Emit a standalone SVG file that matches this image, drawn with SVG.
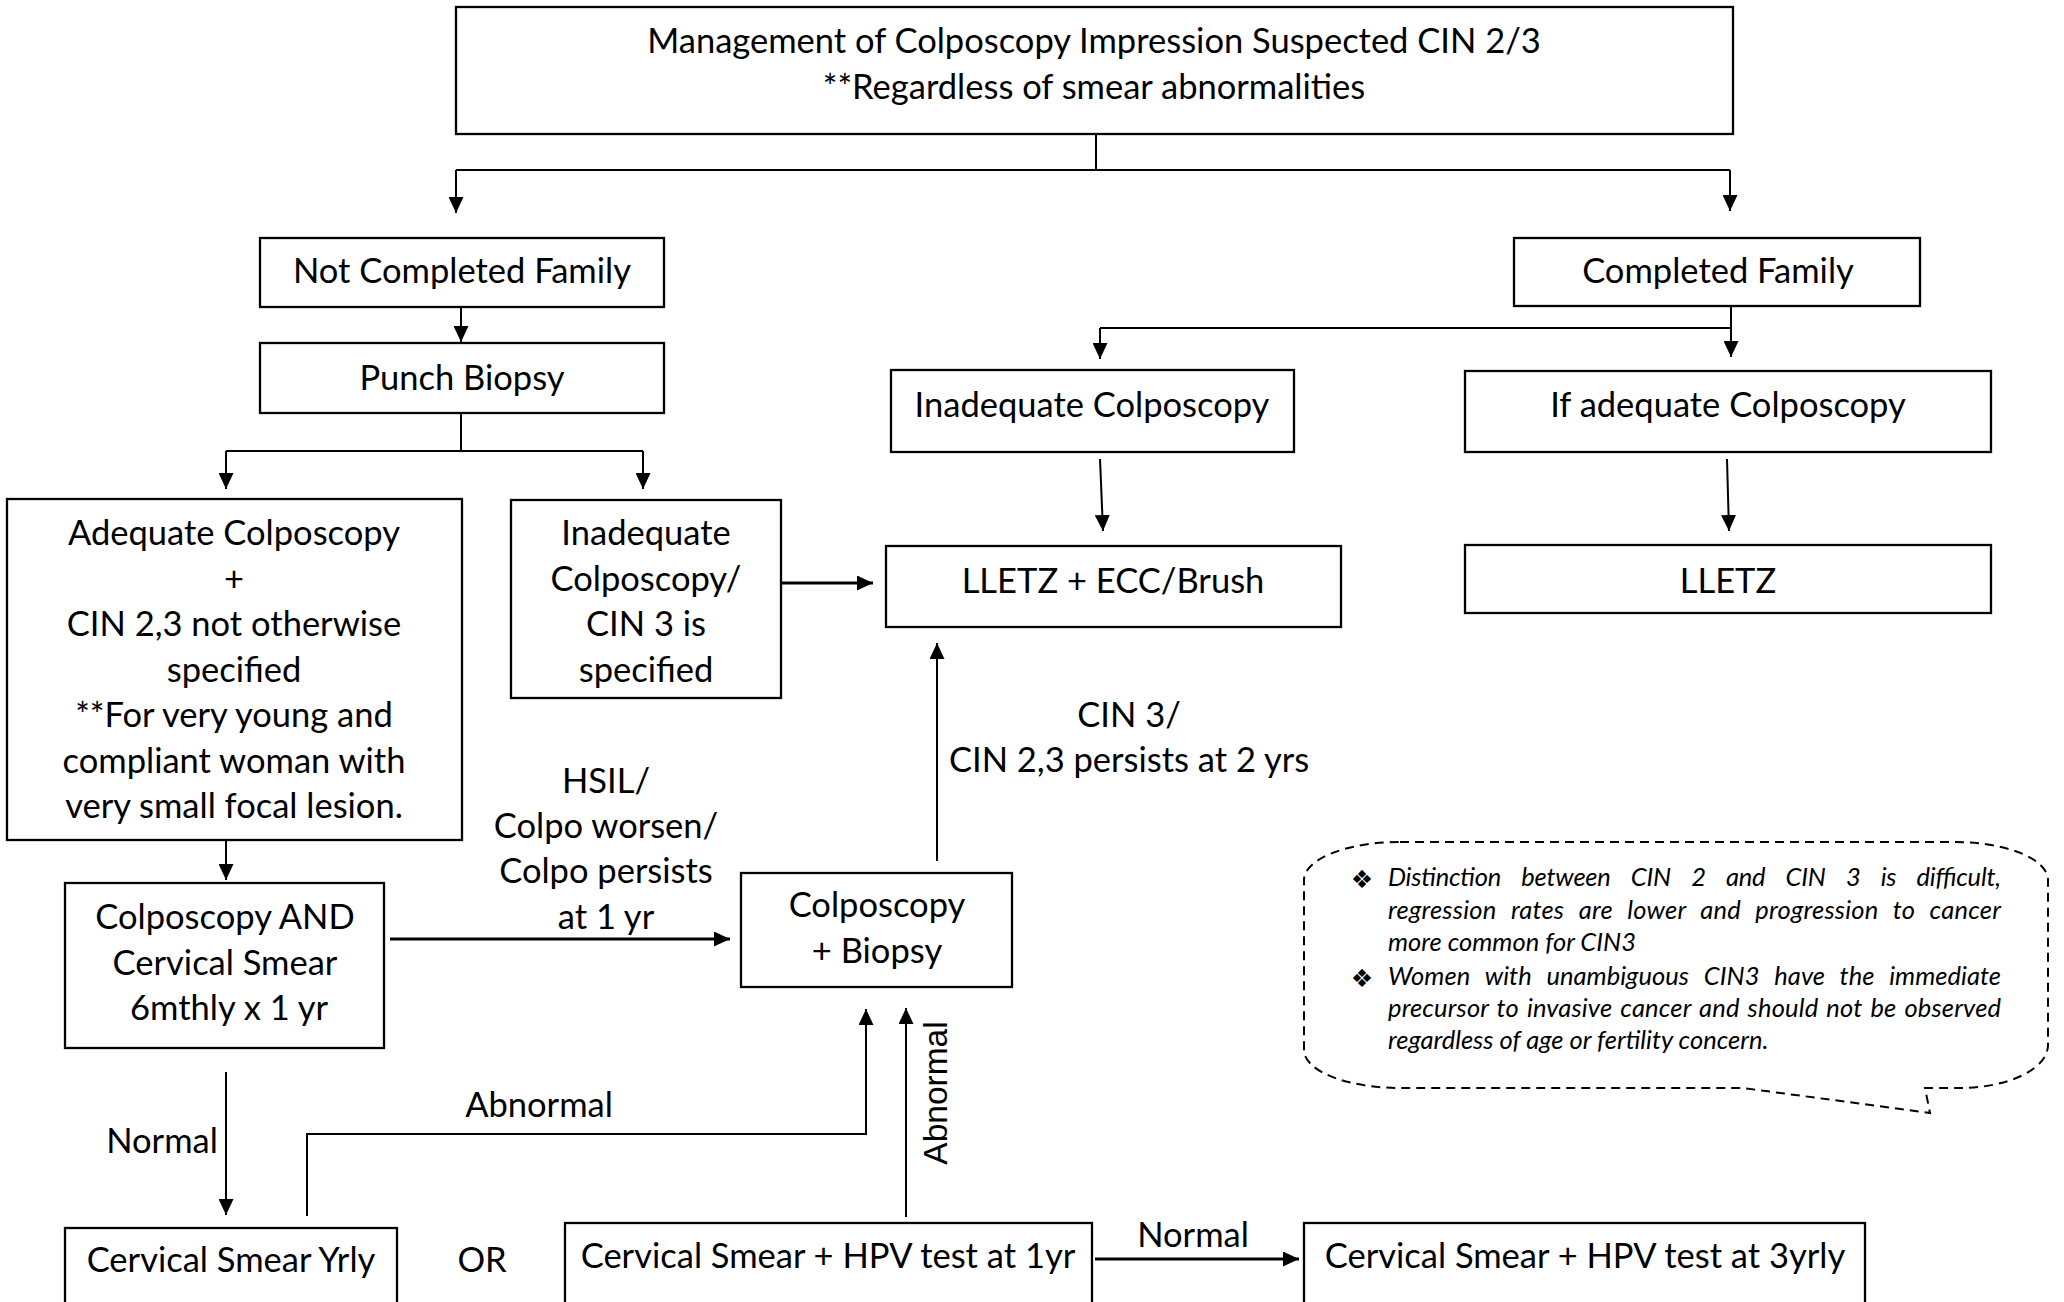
<svg xmlns="http://www.w3.org/2000/svg" width="2064" height="1302" viewBox="0 0 2064 1302">
  <style>
    .box { fill: #ffffff; stroke: #000000; stroke-width: 2.3; }
    .t { font-family: Lato, "Liberation Sans", sans-serif; font-size: 34.5px; fill: #000000; text-anchor: middle; }
    .l { font-family: Lato, "Liberation Sans", sans-serif; font-size: 34.5px; fill: #000000; text-anchor: middle; }
    .rot { font-family: "Liberation Sans", Arial, sans-serif; font-size: 33.5px; fill: #000000; text-anchor: middle; }
    .note { font-family: Lato, "Liberation Sans", sans-serif; font-size: 25.5px; font-style: italic; fill: #000000; }
    .bul { font-family: "DejaVu Sans", sans-serif; font-size: 25px; fill: #000000; text-anchor: middle; }
    .c { fill: none; stroke: #000000; stroke-width: 2; }
    .ct { fill: none; stroke: #000000; stroke-width: 3; }
    .arr { marker-end: url(#ah); }
    .callout { fill: none; stroke: #000000; stroke-width: 2; stroke-dasharray: 9 6; }
  </style>
  <defs>
    <marker id="ah" viewBox="0 0 16 15" refX="16" refY="7.5" markerWidth="16" markerHeight="15" markerUnits="userSpaceOnUse" orient="auto">
      <path d="M0,0 L16,7.5 L0,15 z" fill="#000000"/>
    </marker>
  </defs>

  <rect width="2064" height="1302" fill="#ffffff"/>

  <!-- connectors -->
  <g id="connectors">
    <path class="c" d="M1096,134 V170 M456,170 H1730"/>
    <path class="c arr" d="M456,170 V213"/>
    <path class="c arr" d="M1730,170 V211"/>
    <path class="c arr" d="M461,307 V342"/>
    <path class="c" d="M461,413 V451 M226,451 H643"/>
    <path class="c arr" d="M226,451 V489"/>
    <path class="c arr" d="M643,451 V489"/>
    <path class="c arr" d="M1731,306 V357"/>
    <path class="c" d="M1100,328 H1731"/>
    <path class="c arr" d="M1100,328 V359"/>
    <path class="c arr" d="M1100,459 L1103,531"/>
    <path class="c arr" d="M1727,459 L1729,531"/>
    <path class="ct arr" d="M781,583 H873"/>
    <path class="c arr" d="M937,861 V643"/>
    <path class="c arr" d="M226,840 V880"/>
    <path class="ct arr" d="M390,939 H730"/>
    <path class="c arr" d="M226,1072 V1215"/>
    <path class="c arr" d="M307,1216 V1134 H866 V1009"/>
    <path class="c arr" d="M906,1217 V1008"/>
    <path class="ct arr" d="M1095,1259 H1299"/>
  </g>

  <!-- connector labels -->
  <g id="labels">
    <text class="l" x="1129" y="727">CIN 3/</text>
    <text class="l" x="1129" y="772">CIN 2,3 persists at 2 yrs</text>
    <text class="l" x="606" y="793">HSIL/</text>
    <text class="l" x="606" y="838">Colpo worsen/</text>
    <text class="l" x="606" y="883">Colpo persists</text>
    <text class="l" x="606" y="929">at 1 yr</text>
    <text class="l" x="162" y="1153">Normal</text>
    <text class="l" x="539" y="1117">Abnormal</text>
    <text class="rot" transform="translate(947,1093) rotate(-90)">Abnormal</text>
    <text class="l" x="1193" y="1247">Normal</text>
    <text class="l" x="482" y="1272">OR</text>
  </g>

  <g id="n-title">
    <rect class="box" x="456" y="7" width="1277" height="127"/>
    <text class="t" x="1094" y="53">Management of Colposcopy Impression Suspected CIN 2/3</text>
    <text class="t" x="1094" y="99">**Regardless of smear abnormalities</text>
  </g>

  <g id="n-not-completed">
    <rect class="box" x="260" y="238" width="404" height="69"/>
    <text class="t" x="462" y="283">Not Completed Family</text>
  </g>

  <g id="n-completed">
    <rect class="box" x="1514" y="238" width="406" height="68"/>
    <text class="t" x="1718" y="283">Completed Family</text>
  </g>

  <g id="n-punch">
    <rect class="box" x="260" y="343" width="404" height="70"/>
    <text class="t" x="462" y="390">Punch Biopsy</text>
  </g>

  <g id="n-inadequate-right">
    <rect class="box" x="891" y="370" width="403" height="82"/>
    <text class="t" x="1092" y="417">Inadequate Colposcopy</text>
  </g>

  <g id="n-adequate-right">
    <rect class="box" x="1465" y="371" width="526" height="81"/>
    <text class="t" x="1728" y="417">If adequate Colposcopy</text>
  </g>

  <g id="n-adequate-left">
    <rect class="box" x="7" y="499" width="455" height="341"/>
    <text class="t" x="234" y="545">Adequate Colposcopy</text>
    <text class="t" x="234" y="591">+</text>
    <text class="t" x="234" y="636">CIN 2,3 not otherwise</text>
    <text class="t" x="234" y="682">specified</text>
    <text class="t" x="234" y="727">**For very young and</text>
    <text class="t" x="234" y="773">compliant woman with</text>
    <text class="t" x="234" y="818">very small focal lesion.</text>
  </g>

  <g id="n-inadequate-left">
    <rect class="box" x="511" y="500" width="270" height="198"/>
    <text class="t" x="646" y="545">Inadequate</text>
    <text class="t" x="646" y="591">Colposcopy/</text>
    <text class="t" x="646" y="636">CIN 3 is</text>
    <text class="t" x="646" y="682">specified</text>
  </g>

  <g id="n-lletz-ecc">
    <rect class="box" x="886" y="546" width="455" height="81"/>
    <text class="t" x="1113" y="593">LLETZ + ECC/Brush</text>
  </g>

  <g id="n-lletz">
    <rect class="box" x="1465" y="545" width="526" height="68"/>
    <text class="t" x="1728" y="593">LLETZ</text>
  </g>

  <g id="n-colpo-smear">
    <rect class="box" x="65" y="883" width="319" height="165"/>
    <text class="t" x="225" y="929">Colposcopy AND</text>
    <text class="t" x="225" y="975">Cervical Smear</text>
    <text class="t" x="229" y="1020">6mthly x 1 yr</text>
  </g>

  <g id="n-colpo-biopsy">
    <rect class="box" x="741" y="873" width="271" height="114"/>
    <text class="t" x="877" y="917">Colposcopy</text>
    <text class="t" x="877" y="963">+ Biopsy</text>
  </g>

  <g id="n-smear-yearly">
    <rect class="box" x="65" y="1228" width="332" height="100"/>
    <text class="t" x="231" y="1272">Cervical Smear Yrly</text>
  </g>

  <g id="n-smear-hpv-1yr">
    <rect class="box" x="565" y="1223" width="527" height="100"/>
    <text class="t" x="828" y="1268">Cervical Smear + HPV test at 1yr</text>
  </g>

  <g id="n-smear-hpv-3yr">
    <rect class="box" x="1304" y="1223" width="561" height="100"/>
    <text class="t" x="1585" y="1268">Cervical Smear + HPV test at 3yrly</text>
  </g>

  <!-- dashed speech-bubble note; justified lines use word spacing plus a fixed line length -->
  <g id="n-note">
    <path class="callout" d="M1400,842 H1955 A93,38 0 0 1 2048,880 V1045 A88,43 0 0 1 1960,1088 H1925 L1930,1113 L1743,1088 H1400 A96,38 0 0 1 1304,1050 V880 A96,38 0 0 1 1400,842 Z"/>
    <text class="bul" x="1362" y="888">❖</text>
    <text class="note" x="1388" y="886" style="word-spacing:14.4px" textLength="613" lengthAdjust="spacing">Distinction between CIN 2 and CIN 3 is difficult,</text>
    <text class="note" x="1388" y="919" style="word-spacing:8.2px" textLength="613" lengthAdjust="spacing">regression rates are lower and progression to cancer</text>
    <text class="note" x="1388" y="951">more common for CIN3</text>
    <text class="bul" x="1362" y="987">❖</text>
    <text class="note" x="1388" y="985" style="word-spacing:8.7px" textLength="613" lengthAdjust="spacing">Women with unambiguous CIN3 have the immediate</text>
    <text class="note" x="1388" y="1017" style="word-spacing:1.9px" textLength="613" lengthAdjust="spacing">precursor to invasive cancer and should not be observed</text>
    <text class="note" x="1388" y="1049">regardless of age or fertility concern.</text>
  </g>
</svg>
